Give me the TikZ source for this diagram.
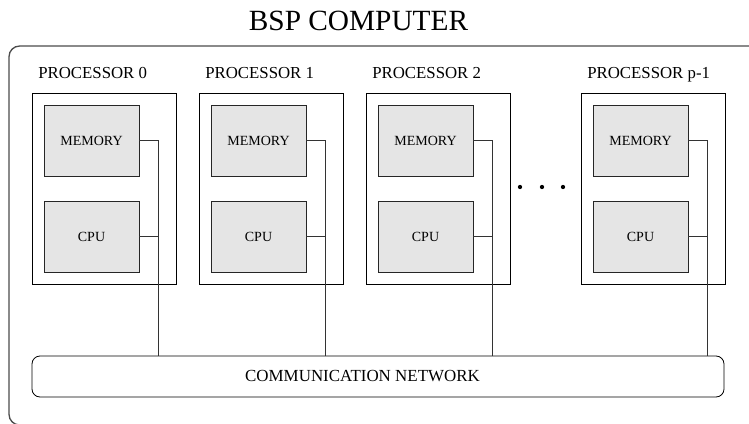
\documentclass[tikz,border=0pt]{standalone}
\usepackage{fontspec}
\setmainfont{Liberation Serif}
\begin{document}
\begin{tikzpicture}[x=0.75pt,y=-0.75pt,
    proc/.style={draw,line width=0.6pt,minimum width=108pt,minimum height=143.25pt},
    unit/.style={draw=black!85,fill=black!10,line width=0.6pt,minimum width=71.25pt,minimum height=53.25pt,
        font=\fontsize{10.5}{12}\selectfont},
    wire/.style={draw=black!80,line width=0.5pt}]
    \useasboundingbox (0,0) rectangle (749,424);
    % outer frame of the machine
    \draw[black!70,line width=1pt,rounded corners=8pt] (9,46) rectangle (790,425);
    \node (title) at (358.5,21) {\fontsize{22}{26}\selectfont BSP COMPUTER};

    \node (net)[draw,rounded corners=6pt,line width=0.6pt,minimum width=519pt,minimum height=30.75pt] at (378,376.5) {};
    \node (netlabel) at (362.5,376) {\fontsize{12.7}{15}\selectfont COMMUNICATION NETWORK};

    \foreach \i/\x/\name in {0/32/0,1/199/1,2/366/2,3/581/p-1} {
        \node (proc\i)[proc] at (\x+72,188.5) {};
        \node (lab\i)[anchor=base west,inner sep=0pt,font=\fontsize{12.6}{15}\selectfont] at (\x+6,79) {PROCESSOR \name};
        \node (mem\i)[unit] at (\x+59.5,140.5) {MEMORY};
        \node (cpu\i)[unit] at (\x+59.5,236.5) {CPU};
        \coordinate (tap\i) at (\x+126,356);
        \draw[wire] (mem\i.east) -| (tap\i);
        \draw[wire] (cpu\i.east) -- (cpu\i.east -| tap\i);
    }

    % the missing processors
    \foreach \d in {520,542,563}
        \fill (\d,187) circle (1.6pt);
\end{tikzpicture}
\end{document}
